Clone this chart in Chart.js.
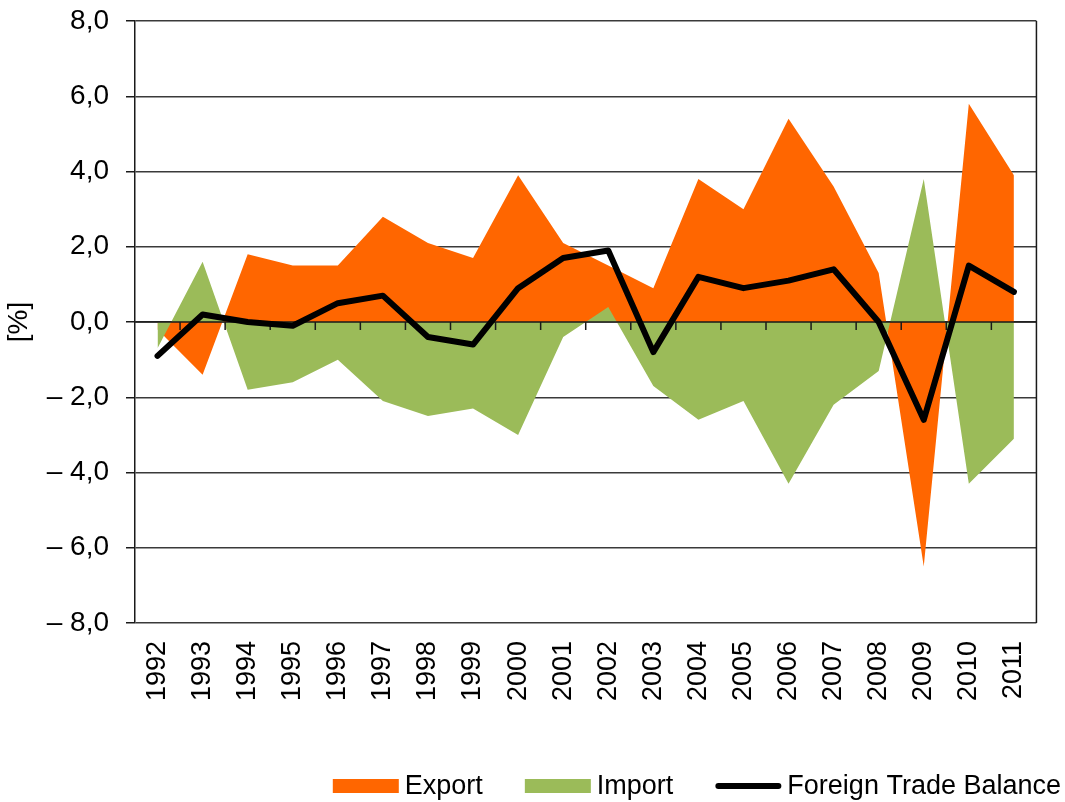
<!DOCTYPE html>
<html>
<head>
<meta charset="utf-8">
<script src="https://cdn.jsdelivr.net/npm/chart.js@4.4.1/dist/chart.umd.min.js"></script>
<style>
  html, body { margin: 0; padding: 0; background: #fff; }
  #wrap { width: 1065px; height: 802px; position: relative; }
</style>
</head>
<body>
<div id="wrap"><canvas id="plot"></canvas></div>
<script>
// years on the x axis
const years = ['1992', '1993', '1994', '1995', '1996', '1997', '1998', '1999', '2000', '2001',
               '2002', '2003', '2004', '2005', '2006', '2007', '2008', '2009', '2010', '2011'];

// contributions in %
const exportVals  = [-0.2, -1.4, 1.8, 1.5, 1.5, 2.8, 2.1, 1.7, 3.9, 2.1,
                     1.5, 0.9, 3.8, 3.0, 5.4, 3.6, 1.3, -6.5, 5.8, 3.9];
const importVals  = [-0.7, 1.6, -1.8, -1.6, -1.0, -2.1, -2.5, -2.3, -3.0, -0.4,
                     0.4, -1.7, -2.6, -2.1, -4.3, -2.2, -1.3, 3.8, -4.3, -3.1];
const balanceVals = [-0.9, 0.2, 0.0, -0.1, 0.5, 0.7, -0.4, -0.6, 0.9, 1.7,
                     1.9, -0.8, 1.2, 0.9, 1.1, 1.4, 0.0, -2.6, 1.5, 0.8];

const seriesNames = ['Export', 'Import', 'Foreign Trade Balance'];
const fontFamily = "'Liberation Sans', Arial, sans-serif";

// tick label like "– 2,0"
let fmtTick = (v) => (v < 0 ? '\u2013 ' : '') + Math.abs(v).toFixed(1).replace('.', ',');

// zero line with small ticks between categories, drawn over the areas
const zeroAxis = {
  id: 'zeroAxis',
  beforeDatasetDraw(chart, args) {
    if (args.index !== 2) return;
    const {ctx, chartArea, scales} = chart;
    const y0 = scales.y.getPixelForValue(0);
    ctx.save();
    ctx.strokeStyle = '#1a1a1a';
    ctx.lineWidth = 1.5;
    ctx.beginPath();
    ctx.moveTo(chartArea.left, y0);
    ctx.lineTo(chartArea.right, y0);
    for (let i = 0; i < years.length - 1; i++) {
      const bx = (scales.x.getPixelForValue(i) + scales.x.getPixelForValue(i + 1)) / 2;
      ctx.moveTo(bx, y0);
      ctx.lineTo(bx, y0 + 8);
    }
    ctx.stroke();
    ctx.restore();
  },
  afterDraw(chart) {
    // right border of the plot
    const {ctx, chartArea} = chart;
    ctx.save();
    ctx.strokeStyle = '#1a1a1a';
    ctx.lineWidth = 1.5;
    ctx.beginPath();
    ctx.moveTo(chartArea.right, chartArea.top);
    ctx.lineTo(chartArea.right, chartArea.bottom);
    ctx.stroke();
    ctx.restore();
  }
};

// legend at the bottom right
const bottomLegend = {
  id: 'bottomLegend',
  afterDraw(chart) {
    const ctx = chart.ctx;
    const ds = chart.data.datasets;
    const boxW = 66, boxH = 14, gapText = 6, gapItem = 42;
    ctx.save();
    ctx.font = '27px ' + fontFamily;
    ctx.textBaseline = 'middle';
    let total = 0;
    ds.forEach((d, i) => {
      total += boxW + gapText + ctx.measureText(d.label).width;
      if (i < ds.length - 1) total += gapItem;
    });
    let x = 1061 - total;
    const yc = 786;
    ds.forEach((d) => {
      if (d.fill) {
        ctx.fillStyle = d.backgroundColor;
        ctx.fillRect(x, yc - boxH / 2, boxW, boxH);
      } else {
        ctx.strokeStyle = d.borderColor;
        ctx.lineWidth = 6;
        ctx.lineCap = 'round';
        ctx.beginPath();
        ctx.moveTo(x + 3, yc);
        ctx.lineTo(x + boxW - 3, yc);
        ctx.stroke();
      }
      x += boxW + gapText;
      ctx.fillStyle = '#000';
      ctx.fillText(d.label, x, yc + 1);
      x += ctx.measureText(d.label).width + gapItem;
    });
    ctx.restore();
  }
};

let config = {
  type: 'line',
  data: {
    labels: years,
    datasets: [
      {
        label: seriesNames[0],
        data: exportVals,
        fill: 'origin',
        backgroundColor: '#FF6600',
        borderWidth: 0,
        pointRadius: 0,
        tension: 0,
        order: 3
      },
      {
        label: seriesNames[1],
        data: importVals,
        fill: 'origin',
        backgroundColor: '#9BBB59',
        borderWidth: 0,
        pointRadius: 0,
        tension: 0,
        order: 2
      },
      {
        label: seriesNames[2],
        data: balanceVals,
        fill: false,
        borderColor: '#000000',
        borderWidth: 6,
        borderCapStyle: 'round',
        borderJoinStyle: 'round',
        pointRadius: 0,
        tension: 0,
        order: 1
      }
    ]
  },
  options: {
    responsive: true,
    maintainAspectRatio: false,
    animation: false,
    layout: { padding: { top: 21, right: 28, left: 0, bottom: 0 } },
    plugins: {
      legend: { display: false },
      tooltip: { enabled: false }
    },
    scales: {
      x: {
        offset: true,
        grid: { display: false, drawTicks: false },
        border: { display: false },
        ticks: {
          color: '#000',
          font: { family: fontFamily, size: 27 },
          minRotation: 90,
          maxRotation: 90,
          padding: 18,
          autoSkip: false
        },
        afterFit: (scale) => { scale.height = 179; }
      },
      y: {
        min: -8,
        max: 8,
        grid: { color: '#3a3a3a', lineWidth: 1.5, tickLength: 9, tickColor: '#1a1a1a' },
        border: { display: true, color: '#1a1a1a', width: 1.5 },
        ticks: {
          stepSize: 2,
          color: '#000',
          padding: 17,
          font: { family: fontFamily, size: 28 },
          callback: (v) => fmtTick(v)
        },
        title: {
          display: true,
          text: '[%]',
          color: '#000',
          font: { family: fontFamily, size: 28 },
          padding: { top: 2, bottom: 0 }
        },
        afterFit: (scale) => {
          scale.width = 135;
          scale.paddingTop = 0;
          scale.paddingBottom = 0;
        }
      }
    }
  },
  plugins: [zeroAxis, bottomLegend]
};

let chart = new Chart(document.getElementById('plot'), config);
</script>
</body>
</html>
